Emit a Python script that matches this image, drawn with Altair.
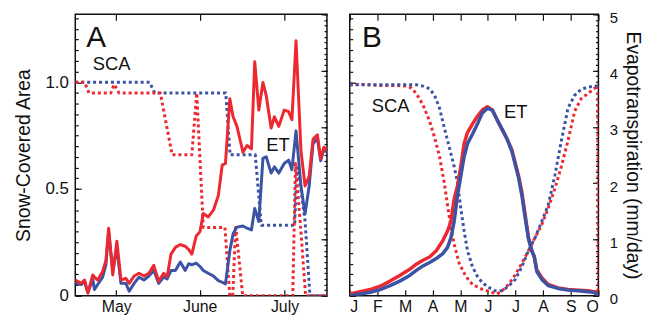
import altair as alt
import pandas as pd

RED = "#EC2830"
BLUE = "#3A53A4"
INK = "#111111"
FONT = "Liberation Sans"

# ---------------- Panel A (daily, mid-April to mid-July; x = day index) ----------------
a_tick_days = [15, 45.5, 76.5]
a_tick_labels = ["May", "June", "July"]

a_sca_red_day = [0, 3.4, 5.0, 13.0, 14.2, 16.0, 31.1, 35.4, 42.6, 44.4, 46.8, 54.7, 56.5, 57.6, 58.6, 61.2, 79.5, 80.5, 82.5, 84.2, 92]
a_sca_red = [1.0, 1.0, 0.95, 0.95, 0.99, 0.95, 0.95, 0.66, 0.66, 0.95, 0.32, 0.32, 0.0, 0.0, 0.33, 0.0, 0.0, 0.62, 0.30, 0.0, 0.0]

a_sca_blue_day = [0, 27.2, 29.0, 55.0, 56.6, 65.8, 68.0, 80.2, 81.0, 82.5, 84.0, 85.8, 92]
a_sca_blue = [1.0, 1.0, 0.95, 0.95, 0.66, 0.66, 0.33, 0.33, 0.60, 0.50, 0.35, 0.0, 0.0]

a_et_day = [0, 2.2, 3.4, 4.6, 6.4, 7.0, 8.2, 10.0, 11.2, 12.2,
            13.7, 15.2, 16.7, 18.5, 19.7, 21.5, 23.3, 25.1, 26.9, 28.7,
            30.5, 32.3, 33.6, 35.0, 36.6, 38.4, 40.2, 41.5, 42.6, 44.2,
            45.6, 46.8, 48.6, 50.5, 52.3, 53.7, 54.9, 56.5, 57.7, 59.1,
            61.3, 62.8, 64.4, 65.6, 67.1, 68.6, 69.8, 71.6, 72.8, 74.4,
            76.4, 78.0, 79.2, 80.7, 82.5, 84.0, 85.5, 86.9, 88.5, 89.7,
            90.9, 92.0]
a_et_red = [0.28, 0.22, 0.28, 0.05, 0.37, 0.33, 0.28, 0.43, 0.63, 1.20,
            0.37, 0.97, 0.28, 0.31, 0.22, 0.35, 0.40, 0.35, 0.40, 0.54,
            0.26, 0.40, 0.34, 0.74, 0.86, 0.91, 0.88, 0.82, 0.74, 1.06,
            1.14, 1.46, 1.40, 1.52, 1.78, 2.32, 2.35, 3.50, 3.18, 3.01,
            2.55, 2.67, 2.61, 4.16, 3.30, 3.79, 3.56, 2.98, 3.18, 3.01,
            3.30, 3.27, 3.13, 4.53, 2.58, 1.95, 2.12, 2.78, 2.86, 2.44,
            2.64, 2.58]
a_et_blue = [0.22, 0.20, 0.25, 0.05, 0.30, 0.11, 0.20, 0.33, 0.55, 1.14,
             0.45, 0.85, 0.22, 0.22, 0.08, 0.22, 0.33, 0.28, 0.35, 0.45,
             0.22, 0.33, 0.30, 0.45, 0.45, 0.60, 0.45, 0.57, 0.55, 0.58,
             0.52, 0.45, 0.40, 0.35, 0.27, 0.24, 0.21, 0.80, 1.10, 1.22,
             1.24, 1.20, 1.17, 1.55, 1.32, 2.44, 2.47, 2.18, 2.29, 2.18,
             2.35, 2.41, 2.24, 2.93, 1.95, 1.45, 1.95, 2.70, 2.80, 2.40,
             2.60, 2.55]

a_text = ["A", "SCA", "ET"]
a_text_x = [4.0, 6.4, 69.8]
a_text_y = [1.165, 1.059, 0.680]
a_text_size = [30, 18.5, 18.5]

# ---------------- Panel B (Jan 1 to Oct 1; x = months since Jan 1) ----------------
b_month_labels = ["J", "F", "M", "A", "M", "J", "J", "A", "S", "O"]

b_sca_red_m = [0, 0.5, 1.1, 1.69, 2.03, 2.23, 2.41, 2.65, 2.89, 3.07,
               3.25, 3.42, 3.54, 3.66, 3.78, 3.96, 4.20, 4.44, 4.80, 5.16,
               5.33, 5.51, 5.75, 5.99, 6.23, 6.47, 6.71, 6.95, 7.18, 7.42,
               7.66, 7.90, 8.14, 8.38, 8.62, 8.85, 8.98, 9.0]
b_sca_red = [0.988, 0.99, 0.985, 0.985, 0.982, 0.973, 0.947, 0.894, 0.818, 0.742,
             0.652, 0.530, 0.424, 0.318, 0.242, 0.152, 0.091, 0.053, 0.030, 0.015,
             0.008, 0.023, 0.053, 0.098, 0.152, 0.212, 0.273, 0.333, 0.409, 0.5,
             0.606, 0.727, 0.864, 0.924, 0.947, 0.970, 0.985, 0.0]

b_sca_blue_m = [0, 1.1, 2.03, 2.41, 2.65, 2.89, 3.07, 3.25, 3.42, 3.60,
                3.78, 3.90, 4.02, 4.14, 4.26, 4.44, 4.62, 4.80, 5.04, 5.27,
                5.51, 5.75, 5.99, 6.23, 6.47, 6.71, 6.95, 7.18, 7.42, 7.66,
                7.90, 8.14, 8.38, 8.62, 8.85, 9.0]
b_sca_blue = [0.988, 0.988, 0.988, 0.988, 0.982, 0.970, 0.939, 0.879, 0.788, 0.697,
              0.606, 0.530, 0.409, 0.303, 0.212, 0.136, 0.091, 0.061, 0.038, 0.023,
              0.023, 0.045, 0.076, 0.136, 0.212, 0.273, 0.348, 0.424, 0.561, 0.727,
              0.879, 0.939, 0.967, 0.977, 0.982, 0.982]

b_et_m = [0, 0.38, 0.74, 1.10, 1.46, 1.81, 2.17, 2.41, 2.65, 2.89,
          3.13, 3.37, 3.54, 3.66, 3.78, 3.90, 4.02, 4.14, 4.26, 4.44,
          4.62, 4.80, 4.98, 5.16, 5.33, 5.51, 5.69, 5.87, 5.99, 6.11,
          6.23, 6.35, 6.47, 6.59, 6.68, 6.77, 6.95, 7.18, 7.54, 7.90,
          8.26, 8.62, 8.85, 9.0]
b_et_red = [0.03, 0.07, 0.11, 0.17, 0.26, 0.36, 0.47, 0.56, 0.63, 0.69,
            0.80, 0.98, 1.15, 1.32, 1.72, 1.95, 2.30, 2.70, 2.90, 3.05,
            3.19, 3.30, 3.36, 3.30, 3.13, 2.96, 2.79, 2.59, 2.36, 2.13,
            1.84, 1.44, 1.03, 0.80, 0.69, 0.46, 0.32, 0.20, 0.14, 0.11,
            0.10, 0.09, 0.07, 0.06]
b_et_blue = [0.0, 0.03, 0.06, 0.11, 0.18, 0.26, 0.36, 0.45, 0.53, 0.59,
             0.66, 0.75, 0.86, 1.03, 1.32, 1.78, 2.13, 2.47, 2.70, 2.87,
             3.05, 3.25, 3.33, 3.30, 3.13, 2.96, 2.79, 2.56, 2.33, 2.10,
             1.78, 1.38, 1.01, 0.80, 0.69, 0.43, 0.29, 0.18, 0.13, 0.10,
             0.09, 0.07, 0.06, 0.0]

b_text = ["B", "SCA", "ET"]
b_text_x = [0.44, 0.80, 5.58]
b_text_y = [1.165, 0.862, 0.832]
b_text_size = [30, 18.5, 18.5]

# ---------------- scales / axes ----------------
XA = [0, 92]
XB = [0, 9]
SCA = [0, 1.318]
ET = [0, 5]
sca_major = [0, 0.5, 1.0]
sca_minor = [round(i * 0.05, 2) for i in range(27)]
et_major = [0, 1, 2, 3, 4, 5]
et_minor = [round(i * 0.1, 1) for i in range(51)]

PLOT_H = 284
XLBL = dict(labelFont=FONT, labelFontSize=16, labelColor=INK)
YLBL = dict(labelFont=FONT, labelFontSize=17, labelColor=INK)
RLBL = dict(labelFont=FONT, labelFontSize=15, labelColor=INK)
TTL = dict(titleFont=FONT, titleFontSize=19.5, titleFontWeight="normal", titleColor=INK)


def axis(orient, values, size, labels=False, **kw):
    # inward tick marks drawn as short dashed grid lines starting at the frame
    return alt.Axis(orient=orient, values=values, ticks=False, domain=False,
                    grid=True, gridDash=[size, 3000], gridColor=INK, gridWidth=1.2,
                    gridOpacity=1, labels=labels, **kw)


def line(xs, ys, color, width, dashed, xdom, ydom, xaxis, yaxis, title=""):
    df = pd.DataFrame({"x": xs, "v": ys})
    kw = dict(color=color, strokeWidth=width, clip=True, strokeJoin="round")
    if dashed:
        kw["strokeDash"] = [3, 3]
        kw["strokeCap"] = "butt"
    return alt.Chart(df).mark_line(**kw).encode(
        x=alt.X("x:Q", scale=alt.Scale(domain=xdom, nice=False, zero=False), title="", axis=xaxis),
        y=alt.Y("v:Q", scale=alt.Scale(domain=ydom, nice=False, zero=False), title=title, axis=yaxis),
    )


def texts(t, xs, ys, sizes, xdom, ydom):
    df = pd.DataFrame({"t": t, "x": xs, "y": ys, "s": sizes})
    return alt.Chart(df).mark_text(align="left", baseline="alphabetic", font=FONT, color=INK).encode(
        x=alt.X("x:Q", scale=alt.Scale(domain=xdom, nice=False, zero=False), axis=None),
        y=alt.Y("y:Q", scale=alt.Scale(domain=ydom, nice=False, zero=False), axis=None),
        text="t:N",
        size=alt.Size("s:Q", scale=None),
    )


def list_expr(items):
    return "[" + ",".join(repr(i) for i in items) + "]"


a_label_expr = f"{list_expr(a_tick_labels)}[indexof({list_expr(a_tick_days)}, datum.value)]"
b_label_expr = f"{list_expr(b_month_labels)}[round(datum.value)]"
sca_label_expr = "datum.value == 0 ? '0' : format(datum.value, '.1f')"

# ---- Panel A ----
a_sca = alt.layer(
    line(a_sca_blue_day, a_sca_blue, BLUE, 3, True, XA, SCA,
         axis("bottom", a_tick_days, 6, labels=True, labelExpr=a_label_expr, labelPadding=3, **XLBL),
         axis("left", sca_major, 6, labels=True, labelExpr=sca_label_expr, labelPadding=7,
              titlePadding=12, **YLBL, **TTL),
         title="Snow-Covered Area"),
    line(a_sca_red_day, a_sca_red, RED, 3, True, XA, SCA,
         axis("top", a_tick_days, 6),
         axis("left", sca_minor, 3)),
    texts(a_text, a_text_x, a_text_y, a_text_size, XA, SCA),
).resolve_axis(x="independent", y="independent")

a_et = alt.layer(
    line(a_et_day, a_et_blue, BLUE, 3, False, XA, ET, None, axis("right", et_major, 6)),
    line(a_et_day, a_et_red, RED, 3, False, XA, ET, None, axis("right", et_minor, 3)),
).resolve_axis(y="independent")

panelA = alt.layer(a_sca, a_et).resolve_scale(y="independent").properties(width=254, height=PLOT_H)

# ---- Panel B ----
b_ticks = list(range(10))
b_sca = alt.layer(
    line(b_sca_red_m, b_sca_red, RED, 3, True, XB, SCA,
         axis("bottom", b_ticks, 6, labels=True, labelExpr=b_label_expr, labelPadding=3, **XLBL),
         axis("left", sca_major, 6)),
    line(b_sca_blue_m, b_sca_blue, BLUE, 3, True, XB, SCA,
         axis("top", b_ticks, 6),
         axis("left", sca_minor, 3)),
    texts(b_text, b_text_x, b_text_y, b_text_size, XB, SCA),
).resolve_axis(x="independent", y="independent")

b_et = alt.layer(
    line(b_et_m, b_et_red, RED, 3.5, False, XB, ET, None,
         axis("right", et_major, 6, labels=True, labelPadding=11, labelOffset=3,
              titlePadding=5, **RLBL, **TTL),
         title="Evapotranspiration (mm/day)"),
    line(b_et_m, b_et_blue, BLUE, 3.5, False, XB, ET, None, axis("right", et_minor, 3)),
).resolve_axis(y="independent")

panelB = alt.layer(b_sca, b_et).resolve_scale(y="independent").properties(width=251, height=PLOT_H)

chart = (
    alt.hconcat(panelA, panelB, spacing=21)
    .properties(padding={"left": 3.9, "top": 0, "right": 0, "bottom": -2})
    .configure(font=FONT)
    .configure_view(stroke=INK, strokeWidth=1.5)
)

chart.save("out.html", embed_options={"renderer": "svg", "actions": False})
